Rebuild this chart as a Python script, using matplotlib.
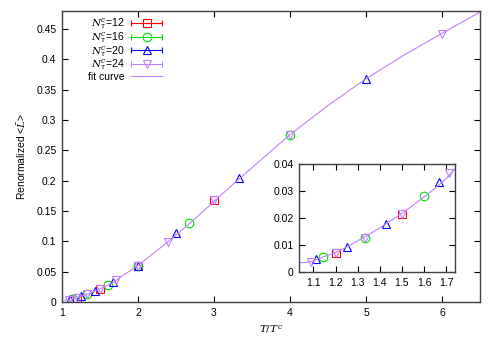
import matplotlib
matplotlib.use("Agg")
import numpy as np
import matplotlib.pyplot as plt
from matplotlib.container import ErrorbarContainer
from matplotlib.legend_handler import HandlerErrorbar

plt.rcParams['font.family'] = ['Liberation Sans', 'DejaVu Sans']
plt.rcParams['mathtext.fontset'] = 'dejavuserif'

# data: T/T^c and renormalized <L> for each N_tau^c
t12 = [1.2, 1.5, 2.0, 3.0]
l12 = [0.0071, 0.0215, 0.060, 0.168]

t16 = [1.143, 1.333, 1.6, 2.0, 2.667, 4.0]
l16 = [0.0054, 0.0126, 0.0281, 0.060, 0.130, 0.276]

t20 = [1.111, 1.25, 1.429, 1.667, 2.0, 2.5, 3.333, 5.0]
l20 = [0.0047, 0.0094, 0.0178, 0.0331, 0.060, 0.113, 0.204, 0.368]

t24 = [1.091, 1.2, 1.333, 1.5, 1.714, 2.0, 2.4, 3.0, 4.0, 6.0]
l24 = [0.0037, 0.0071, 0.0126, 0.0215, 0.0365, 0.060, 0.099, 0.168, 0.276, 0.442]

# fit curve
fit_t = [1.035, 1.06, 1.09, 1.11, 1.14, 1.2, 1.25, 1.3, 1.35, 1.4, 1.45, 1.5,
         1.55, 1.6, 1.65, 1.7, 1.75, 1.8, 1.9, 2.0, 2.2, 2.4, 2.6, 2.8, 3.0,
         3.33, 3.67, 4.0, 4.5, 5.0, 5.5, 6.0, 6.5]
fit_l = [0.0034, 0.0035, 0.0038, 0.0045, 0.0054, 0.0072, 0.0092, 0.0115,
         0.0138, 0.0163, 0.019, 0.0217, 0.0246, 0.0277, 0.031, 0.0345, 0.039,
         0.0436, 0.052, 0.0605, 0.080, 0.100, 0.121, 0.143, 0.166, 0.203,
         0.240, 0.276, 0.324, 0.368, 0.407, 0.443, 0.478]

labels = ['12', '16', '20', '24']
colors = ['#ff0000', '#00dd00', '#0000ff', '#c080ff']
markers = ['s', 'o', '^', 'v']
series = [(t12, l12), (t16, l16), (t20, l20), (t24, l24)]
fit_color = '#c080ff'
msize = 6.2


def style_axes(ax):
    ax.tick_params(direction='in', top=True, right=True, length=4,
                   width=0.8, labelsize=7.5, pad=4)
    for s in ax.spines.values():
        s.set_color('#404040')
        s.set_linewidth(1.0)


def draw(ax):
    for (t, l), c, m in zip(series, colors, markers):
        ax.plot(t, l, linestyle='none', marker=m, markersize=msize,
                markerfacecolor='none', markeredgecolor=c, markeredgewidth=0.8)
    ax.plot(fit_t, fit_l, color=fit_color, lw=0.8)


fig = plt.figure(figsize=(5, 3.5), dpi=100)
ax = fig.add_axes([0.124, 0.137, 0.836, 0.832])
draw(ax)
ax.set_xlim(1, 6.5)
ax.set_ylim(0, 0.48)
ax.set_xticks([1, 2, 3, 4, 5, 6])
ax.set_yticks([0, 0.05, 0.1, 0.15, 0.2, 0.25, 0.3, 0.35, 0.4, 0.45])
ax.set_yticklabels(['0', '0.05', '0.1', '0.15', '0.2', '0.25', '0.3',
                    '0.35', '0.4', '0.45'])
style_axes(ax)
ax.set_xlabel('$T/T^c$', fontsize=7.5, labelpad=4)
ax.set_ylabel(r'Renormalized <$\bar{L}$>', fontsize=7.5, labelpad=6)

# legend proxies with horizontal error bars like gnuplot
handles = []
names = []
for lab, c, m in zip(labels, colors, markers):
    h = ax.errorbar([np.nan], [np.nan], xerr=[0.1], linestyle='none',
                    marker=m, markersize=msize, markerfacecolor='none',
                    markeredgecolor=c, markeredgewidth=0.8, ecolor=c,
                    elinewidth=0.8, capsize=2.5, capthick=0.8)
    handles.append(h)
    names.append(r'$N_{\tau}^{c}$=' + lab)
fit_h, = ax.plot([], [], color=fit_color, lw=0.8)
handles.append(fit_h)
names.append('fit curve')
leg = ax.legend(handles, names, loc='upper left', bbox_to_anchor=(0.04, 1.01),
                frameon=False, fontsize=7.5, markerfirst=False,
                handlelength=3.0, handletextpad=0.6, labelspacing=-0.05,
                handler_map={ErrorbarContainer: HandlerErrorbar(xerr_size=1.5)})

# inset
axi = fig.add_axes([0.598, 0.223, 0.312, 0.309])
draw(axi)
axi.set_xlim(1.035, 1.74)
axi.set_ylim(0, 0.04)
axi.set_xticks([1.1, 1.2, 1.3, 1.4, 1.5, 1.6, 1.7])
axi.set_yticks([0, 0.01, 0.02, 0.03, 0.04])
axi.set_yticklabels(['0', '0.01', '0.02', '0.03', '0.04'])
style_axes(axi)

fig.savefig('out.png', dpi=100)
